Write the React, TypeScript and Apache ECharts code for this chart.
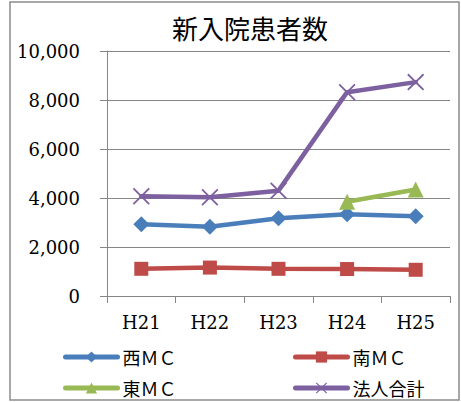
import React, { useEffect, useRef } from "react";
import * as echarts from "echarts";

const categories = ["H21", "H22", "H23", "H24", "H25"];
const westMC = [2930, 2830, 3170, 3340, 3260];
const southMC = [1110, 1160, 1110, 1100, 1070];
const eastMC = [null, null, null, 3850, 4350];
const totalCorp = [4070, 4030, 4300, 8320, 8730];
const yTicks = [0, 2000, 4000, 6000, 8000, 10000];

const serif = "DejaVu Serif";
const cjk = "Noto Sans CJK JP";
const xPath = "path://M0,1.5 L1.5,0 L10,8.5 L18.5,0 L20,1.5 L11.5,10 L20,18.5 L18.5,20 L10,11.5 L1.5,20 L0,18.5 L8.5,10 Z";

export default function App() {
  const ref = useRef<HTMLDivElement>(null);
  useEffect(() => {
    const chart = echarts.init(ref.current!, null, { renderer: "svg" });
    const mk = (name: string, data: any[], color: string, symbol: string, size: number) => ({
      name,
      type: "line",
      data,
      symbol,
      symbolSize: size,
      showAllSymbol: true,
      lineStyle: { color, width: 4.5, cap: "round" },
      itemStyle: { color, borderWidth: 0 },
      connectNulls: false,
    });
    const legendBase = {
      orient: "vertical",
      top: 343,
      itemWidth: 52,
      itemHeight: 14,
      itemGap: 13,
      lineStyle: { width: 5, cap: "round" },
      textStyle: { fontFamily: cjk, fontSize: 18, color: "#000" },
    };
    chart.setOption({
      animation: false,
      backgroundColor: "#fff",
      title: {
        text: "新入院患者数",
        left: 245,
        textAlign: "center",
        top: 9,
        textStyle: { fontFamily: cjk, fontSize: 26, fontWeight: "normal", color: "#000" },
      },
      graphic: [
        {
          type: "rect",
          shape: { x: 10, y: 2, width: 449, height: 398 },
          style: { fill: "none", stroke: "#8c8c8c", lineWidth: 1.5 },
          silent: true,
        },
      ],
      legend: [
        { ...legendBase, data: ["西ＭＣ", "東ＭＣ"], left: 58 },
        { ...legendBase, data: ["南ＭＣ", "法人合計"], left: 288 },
      ],
      grid: { left: 107, right: 11, top: 51, bottom: 106, containLabel: false },
      xAxis: {
        type: "category",
        data: categories,
        boundaryGap: true,
        axisLine: { lineStyle: { color: "#868686", width: 1 } },
        axisTick: { show: true, length: 7, lineStyle: { color: "#868686" } },
        axisLabel: { fontFamily: serif, fontSize: 18, color: "#000", margin: 17 },
      },
      yAxis: {
        type: "value",
        min: yTicks[0],
        max: yTicks[yTicks.length - 1],
        interval: 2000,
        axisLine: { show: true, lineStyle: { color: "#868686", width: 1 } },
        axisTick: { show: true, length: 7, lineStyle: { color: "#868686" } },
        splitLine: { lineStyle: { color: "#868686", width: 1 } },
        axisLabel: {
          fontFamily: serif,
          fontSize: 18,
          color: "#000",
          margin: 27,
          formatter: (v: number) => v.toLocaleString("en-US"),
        },
      },
      series: [
        mk("西ＭＣ", westMC, "#4A7EBB", "diamond", 16),
        mk("南ＭＣ", southMC, "#BE4B48", "rect", 14),
        mk("東ＭＣ", eastMC, "#98B954", "triangle", 16),
        mk("法人合計", totalCorp, "#7D60A0", xPath, 17),
      ],
    });
    return () => chart.dispose();
  }, []);
  return <div ref={ref} style={{ width: 461, height: 402, position: "absolute", left: 0, top: 0 }} />;
}
